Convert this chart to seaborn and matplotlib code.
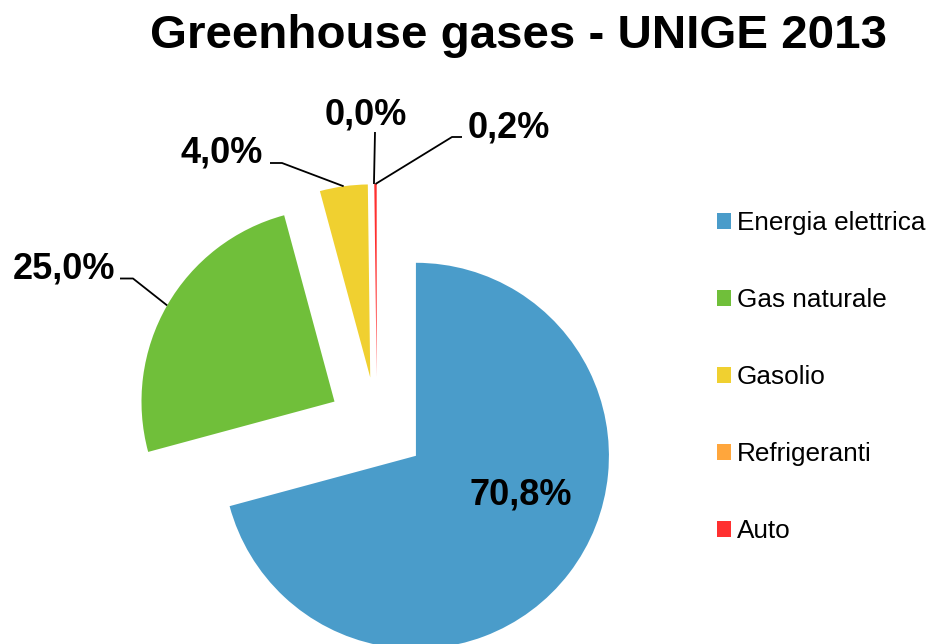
import matplotlib
matplotlib.use("Agg")
import matplotlib.pyplot as plt
import seaborn as sns
import numpy as np

# ---- data ----
categories = ["Energia elettrica", "Gas naturale", "Gasolio", "Refrigeranti", "Auto"]
shares = [70.8, 25.0, 4.0, 0.0, 0.2]
colors = ["#4A9CCA", "#70BF3A", "#F0D030", "#FFA63C", "#FF3030"]
title = "Greenhouse gases - UNIGE 2013"

sns.set_theme(style="white")
plt.rcParams['font.family'] = ['Liberation Sans', 'DejaVu Sans']
plt.rcParams['text.color'] = 'black'

W, H = 930, 644
fig = plt.figure(figsize=(W / 100, H / 100), dpi=100)
ax = fig.add_axes([0, 0, 1, 1])

# layout: pie centre/radius in image pixels
CX, CY, R = 377, 426, 193


def px(x, y):
    return ((x - CX) / R, (CY - y) / R)


wedges, _ = ax.pie(shares, colors=colors, startangle=90, counterclock=False,
                   explode=[0.254] * len(shares), radius=1,
                   wedgeprops=dict(linewidth=0))
ax.set_xlim(-CX / R, (W - CX) / R)
ax.set_ylim((CY - H) / R, CY / R)
ax.set_aspect('auto')
ax.axis('off')


def fmt(v):
    return f"{v:.1f}".replace('.', ',') + '%'


def arc_mid(w):
    m = np.deg2rad(0.5 * (w.theta1 + w.theta2))
    return (w.center[0] + w.r * np.cos(m), w.center[1] + w.r * np.sin(m))


lab_font = dict(family=['Liberation Sans Narrow', 'Liberation Sans'], fontweight='bold',
                fontsize=26, color='black')

# label layout (text centre x, baseline y) and leader polyline start/elbow
label_pos = {0: (520.5, 505), 1: (64, 278), 2: (222, 163), 3: (366, 125), 4: (508.5, 138)}
leaders = {1: [(120, 278.5), (133, 278.5)],
           2: [(270, 163), (282, 163)],
           3: [(375, 132)],
           4: [(462, 137), (452, 137)]}

for i, v in enumerate(shares):
    x, y = px(*label_pos[i])
    ax.text(x, y, fmt(v), ha='center', va='baseline', **lab_font)
    if i in leaders:
        pts = [px(*p) for p in leaders[i]] + [arc_mid(wedges[i])]
        xs, ys = zip(*pts)
        ax.plot(xs, ys, color='black', lw=1.3, solid_capstyle='butt')

fig.text(518 / W, 1 - 48 / H, title, ha='center', va='baseline',
         fontsize=34.2, fontweight='bold', color='black')

fig.legend(wedges, categories, loc='center left', bbox_to_anchor=(717 / W, 1 - 377 / H),
           frameon=False, fontsize=18.8, handlelength=0.55, handleheight=0.55,
           handletextpad=0.22, labelspacing=2.03, borderpad=0, borderaxespad=0,
           labelcolor='black')

fig.savefig("out.png", dpi=100)
